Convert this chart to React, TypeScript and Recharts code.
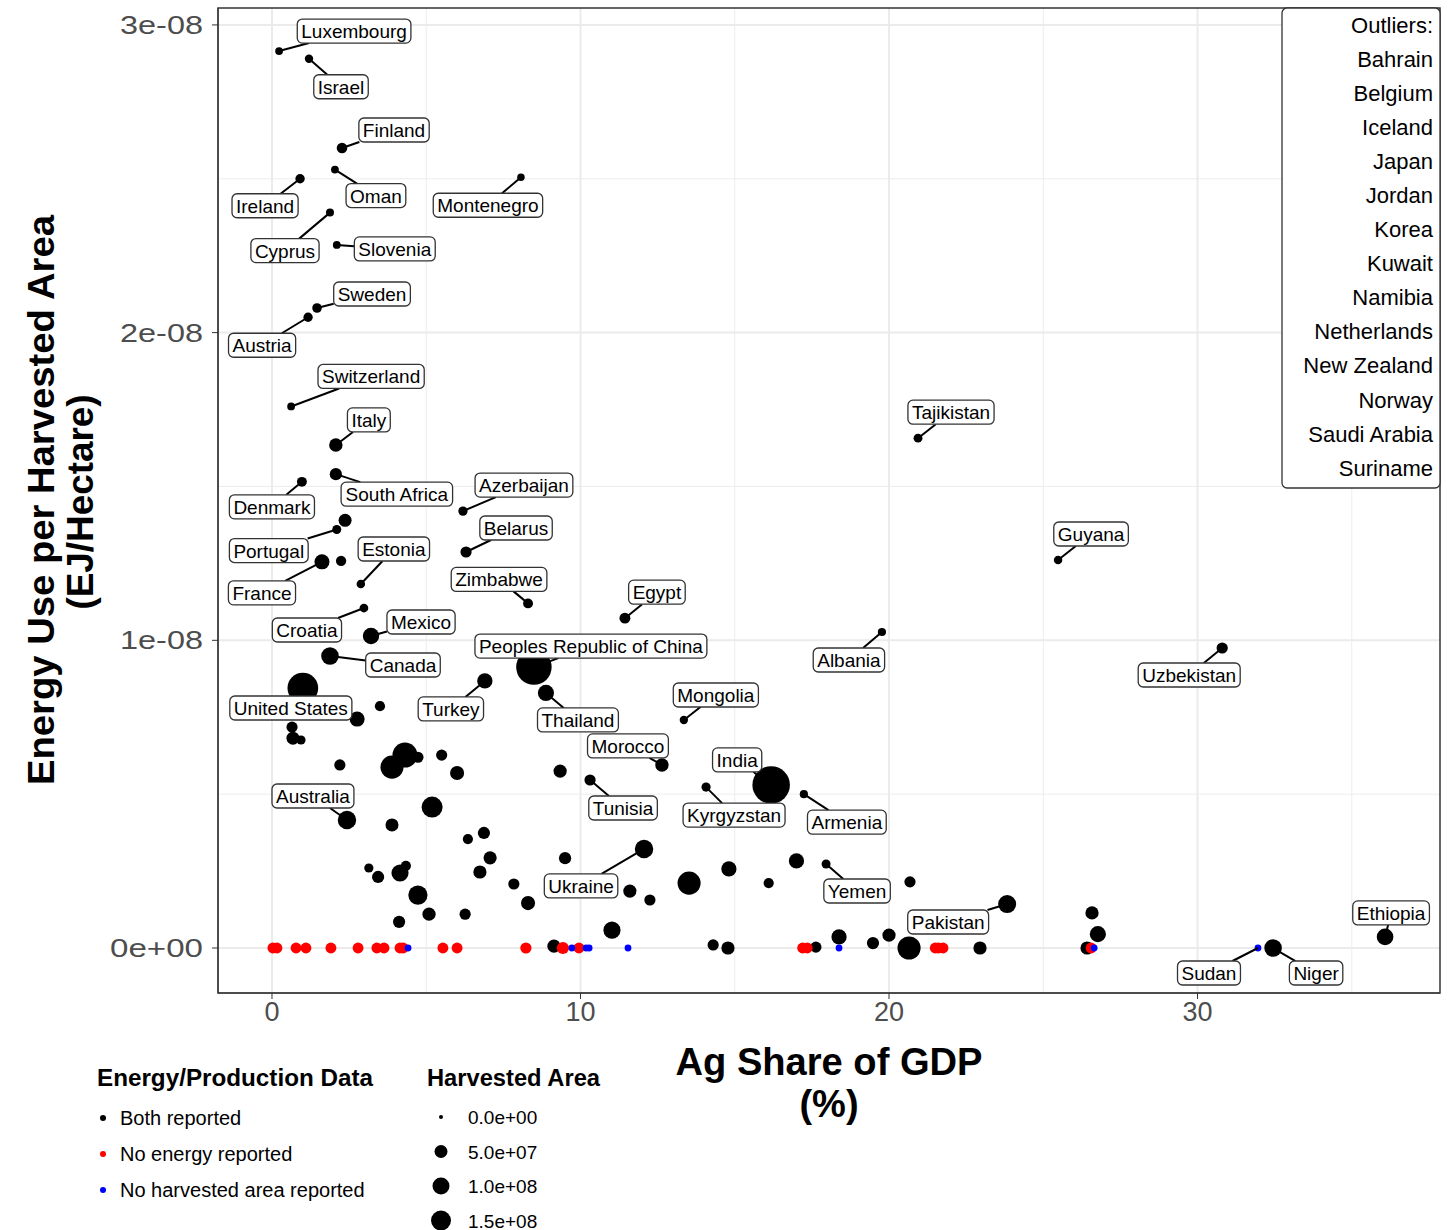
import React from 'react';
import { ScatterChart, Scatter, XAxis, YAxis, CartesianGrid } from 'recharts';

// [country, ag share of GDP (%), energy use per harvested area (EJ/ha), harvested area (Mha)]
type Row = [string, number, number, number];

const BOTH_REPORTED: Row[] = [
  ['Luxembourg', 0.23, 2.915e-8, 0.2],
  ['Israel', 1.2, 2.89e-8, 0.5],
  ['Finland', 2.27, 2.6e-8, 3],
  ['Oman', 2.04, 2.53e-8, 0.2],
  ['Ireland', 0.91, 2.5e-8, 1.4],
  ['Montenegro', 8.07, 2.505e-8, 0.1],
  ['Cyprus', 1.88, 2.39e-8, 0.3],
  ['Slovenia', 2.1, 2.285e-8, 0.2],
  ['Sweden', 1.46, 2.08e-8, 1.6],
  ['Austria', 1.17, 2.05e-8, 1.3],
  ['Switzerland', 0.62, 1.76e-8, 0.2],
  ['Italy', 2.07, 1.635e-8, 9],
  ['South Africa', 2.07, 1.54e-8, 6],
  ['Denmark', 0.97, 1.515e-8, 2],
  ['Azerbaijan', 6.19, 1.42e-8, 1.3],
  ['Portugal', 2.1, 1.36e-8, 1],
  ['', 2.37, 1.39e-8, 8],
  ['Belarus', 6.29, 1.287e-8, 4],
  ['France', 1.62, 1.255e-8, 14],
  ['', 2.24, 1.258e-8, 2.5],
  ['Estonia', 2.88, 1.183e-8, 0.6],
  ['Zimbabwe', 8.3, 1.12e-8, 2],
  ['Egypt', 11.44, 1.072e-8, 3.5],
  ['Croatia', 2.98, 1.105e-8, 0.8],
  ['Mexico', 3.21, 1.014e-8, 19],
  ['Albania', 19.77, 1.027e-8, 0.4],
  ['Canada', 1.88, 0.949e-8, 24],
  ['Peoples Republic of China', 8.49, 0.913e-8, 170],
  ['United States', 1.0, 0.845e-8, 118],
  ['Turkey', 6.9, 0.868e-8, 15],
  ['Thailand', 8.88, 0.829e-8, 18],
  ['Uzbekistan', 30.8, 0.975e-8, 4],
  ['Guyana', 25.48, 1.261e-8, 0.6],
  ['Tajikistan', 20.94, 1.657e-8, 0.9],
  ['Mongolia', 13.35, 0.741e-8, 0.5],
  ['Morocco', 12.64, 0.595e-8, 9],
  ['India', 16.18, 0.53e-8, 195],
  ['Tunisia', 10.31, 0.546e-8, 4],
  ['Kyrgyzstan', 14.07, 0.523e-8, 1.2],
  ['Armenia', 17.24, 0.5e-8, 0.4],
  ['Australia', 2.43, 0.416e-8, 28],
  ['Ukraine', 12.06, 0.322e-8, 28],
  ['Yemen', 17.96, 0.273e-8, 1],
  ['Pakistan', 23.83, 0.143e-8, 26],
  ['Ethiopia', 36.08, 0.036e-8, 20],
  ['Niger', 32.45, 0.0, 24],
  ['', 3.5, 0.786e-8, 2.4],
  ['', 2.76, 0.744e-8, 14],
  ['', 0.65, 0.718e-8, 4],
  ['', 0.68, 0.682e-8, 8],
  ['', 0.94, 0.676e-8, 1.2],
  ['', 2.2, 0.595e-8, 4],
  ['', 3.89, 0.588e-8, 55],
  ['', 4.31, 0.627e-8, 68],
  ['', 4.73, 0.62e-8, 4],
  ['', 5.5, 0.627e-8, 4],
  ['', 6.0, 0.569e-8, 11],
  ['', 5.19, 0.458e-8, 42],
  ['', 3.89, 0.4e-8, 8],
  ['', 6.35, 0.354e-8, 2.4],
  ['', 6.87, 0.374e-8, 6],
  ['', 3.14, 0.26e-8, 1.2],
  ['', 3.44, 0.231e-8, 6],
  ['', 4.15, 0.244e-8, 22],
  ['', 4.34, 0.267e-8, 2.4],
  ['', 4.73, 0.172e-8, 32],
  ['', 4.12, 0.085e-8, 6],
  ['', 5.09, 0.11e-8, 8.5],
  ['', 6.26, 0.11e-8, 4],
  ['', 6.74, 0.247e-8, 8.5],
  ['', 7.07, 0.293e-8, 8.5],
  ['', 9.34, 0.575e-8, 8.5],
  ['', 7.84, 0.208e-8, 4],
  ['', 8.3, 0.146e-8, 11],
  ['', 9.5, 0.292e-8, 6],
  ['', 11.6, 0.185e-8, 8.5],
  ['', 12.25, 0.156e-8, 4],
  ['', 13.52, 0.211e-8, 55],
  ['', 11.02, 0.058e-8, 22],
  ['', 14.3, 0.01e-8, 4],
  ['', 14.78, 0.0, 8.5],
  ['', 14.81, 0.257e-8, 14.6],
  ['', 16.1, 0.211e-8, 2.4],
  ['', 17.0, 0.283e-8, 14.6],
  ['', 20.68, 0.215e-8, 4],
  ['', 17.63, 0.003e-8, 4],
  ['', 18.38, 0.036e-8, 14.6],
  ['', 19.48, 0.016e-8, 6],
  ['', 20.0, 0.042e-8, 8.5],
  ['', 20.65, 0.0, 55],
  ['', 22.95, 0.0, 8.5],
  ['', 26.58, 0.114e-8, 8.5],
  ['', 26.77, 0.045e-8, 18],
  ['', 26.42, 0.0, 8.5],
  ['', 9.14, 0.006e-8, 8.5],
];

// no energy reported -> plotted at 0
const NO_ENERGY: Row[] = [
  ['', 0.03, 0, 3.5], ['', 0.16, 0, 3.5], ['', 0.78, 0, 3.5], ['', 1.1, 0, 3.5],
  ['', 1.91, 0, 3.5], ['', 2.79, 0, 3.5], ['', 3.4, 0, 3.5], ['', 3.63, 0, 3.5],
  ['', 4.15, 0, 3.5], ['', 4.25, 0, 3.5], ['', 5.54, 0, 3.5], ['', 6.0, 0, 3.5],
  ['', 8.23, 0, 4], ['', 9.43, 0, 6], ['', 9.95, 0, 3.5], ['', 17.2, 0, 3.5],
  ['', 17.35, 0, 3.5], ['', 21.5, 0, 3.5], ['', 21.6, 0, 3.5], ['', 21.75, 0, 3.5],
  ['', 26.55, 0, 3.5],
];

// no harvested area reported
const NO_AREA: Row[] = [
  ['', 4.41, 0, 0], ['', 9.72, 0, 0], ['', 10.18, 0, 0], ['', 10.28, 0, 0],
  ['', 11.54, 0, 0], ['', 18.38, 0, 0], ['', 26.65, 0, 0], ['Sudan', 31.96, 0, 0],
];

const X_TICKS = [0, 10, 20, 30];
const X_MINOR = [0, 5, 10, 15, 20, 25, 30, 35];
const Y_TICKS = [0, 1e-8, 2e-8, 3e-8];
const Y_MINOR = [0, 0.5e-8, 1e-8, 1.5e-8, 2e-8, 2.5e-8, 3e-8];
const Y_TICK_LABELS: Record<number, string> = { 0: '0e+00', 1e-8: '1e-08', 2e-8: '2e-08', 3e-8: '3e-08' };

const OUTLIERS = ['Bahrain', 'Belgium', 'Iceland', 'Japan', 'Jordan', 'Korea', 'Kuwait', 'Namibia',
  'Netherlands', 'New Zealand', 'Norway', 'Saudi Arabia', 'Suriname'];
const STATUS_NAMES = ['Both reported', 'No energy reported', 'No harvested area reported'];
const STATUS_COLORS = ['#000000', '#ff0000', '#0000ff'];
const AREA_BREAKS = ['0.0e+00', '5.0e+07', '1.0e+08', '1.5e+08'];
const AREA_KEY_R = [2, 6.5, 8.5, 10];

// label box centre relative to its point (px)
const LABEL_OFFSETS: Record<string, [number, number]> = {
  Luxembourg: [75, -20], Israel: [32, 28], Finland: [52, -18], Oman: [41, 26], Ireland: [-35, 27],
  Montenegro: [-33, 28], Cyprus: [-45, 38], Slovenia: [58, 4], Sweden: [55, -14], Austria: [-46, 28],
  Switzerland: [80, -30], Italy: [33, -25], 'South Africa': [61, 20], Denmark: [-30, 25],
  Azerbaijan: [61, -26], Belarus: [50, -24], Portugal: [-68, 21], Estonia: [33, -35], France: [-60, 31],
  Zimbabwe: [-29, -24], Egypt: [32, -26], Croatia: [-57, 22], Mexico: [50, -14], Canada: [73, 9],
  'Peoples Republic of China': [57, -21], 'United States': [-12, 20], Turkey: [-34, 28],
  Thailand: [32, 27], Albania: [-33, 28], Tajikistan: [33, -26], Guyana: [33, -26],
  Uzbekistan: [-33, 27], Mongolia: [32, -25], Morocco: [-34, -19], India: [-34, -25],
  Tunisia: [33, 28], Kyrgyzstan: [28, 28], Armenia: [43, 28], Australia: [-34, -24],
  Ukraine: [-63, 37], Yemen: [31, 27], Pakistan: [-59, 18], Ethiopia: [6, -24], Sudan: [-49, 25],
  Niger: [43, 25],
};

const FONT = '"Liberation Sans", Arial, sans-serif';
const toPoints = (rows: Row[]) => rows.map(([name, x, y, area]) => ({ name, x, y, area }));
const radius = (area: number) => 3.4 + 1.1 * Math.sqrt(area);

const measureCtx = document.createElement('canvas').getContext('2d')!;
measureCtx.font = `19px ${FONT}`;

const dot = (color: string) => (props: any) => {
  const { cx, cy, payload } = props;
  if (cx == null || cy == null) return <g />;
  return <circle cx={cx} cy={cy} r={radius(payload.area)} fill={color} />;
};

const LabelShape = (props: any) => {
  const { cx, cy, payload } = props;
  const off = LABEL_OFFSETS[payload.name];
  if (!off || cx == null) return <g />;
  const w = measureCtx.measureText(payload.name).width + 8;
  const h = 24;
  const lx = cx + off[0];
  const ly = cy + off[1];
  // segment from point toward label centre, cut at the box edge (like ggrepel)
  const dx = cx - lx;
  const dy = cy - ly;
  const t = Math.min(
    dx === 0 ? Infinity : (w / 2) / Math.abs(dx),
    dy === 0 ? Infinity : (h / 2) / Math.abs(dy),
  );
  const ex = lx + dx * Math.min(t, 1);
  const ey = ly + dy * Math.min(t, 1);
  return (
    <g>
      <line x1={cx} y1={cy} x2={ex} y2={ey} stroke="#000" strokeWidth={2} />
      <rect x={lx - w / 2} y={ly - h / 2} width={w} height={h} rx={5} fill="#fff" stroke="#333" strokeWidth={1.3} />
      <text x={lx} y={ly + 7} textAnchor="middle" fontSize={19} fontFamily={FONT} fill="#000">
        {payload.name}
      </text>
    </g>
  );
};

const YTick = (props: any) => {
  const { x, y, payload } = props;
  const label = Y_TICK_LABELS[payload.value] ?? String(payload.value);
  return (
    <text x={x} y={y + 9} textAnchor="end" fontSize={26} fontFamily={FONT} fill="#4d4d4d"
      textLength={label === '0e+00' ? 93 : 83} lengthAdjust="spacingAndGlyphs">
      {label}
    </text>
  );
};

const XTick = (props: any) => {
  const { x, y, payload } = props;
  return (
    <text x={x} y={y + 20} textAnchor="middle" fontSize={27} fontFamily={FONT} fill="#4d4d4d">
      {payload.value}
    </text>
  );
};

export default function App() {
  const both = toPoints(BOTH_REPORTED);
  const noEnergy = toPoints(NO_ENERGY);
  const noArea = toPoints(NO_AREA);
  const labeled = [...both, ...noArea].filter((p) => p.name !== '');

  return (
    <div style={{ position: 'relative', width: 1448, height: 1230, background: '#fff' }}>
      <style>{'body{margin:0}'}</style>
      <ScatterChart width={1448} height={1230} margin={{ top: 8, right: 8, bottom: 0, left: 0 }}>
        <CartesianGrid stroke="#ededed" strokeWidth={1} verticalValues={X_MINOR} horizontalValues={Y_MINOR} />
        <CartesianGrid stroke="#ebebeb" strokeWidth={2} verticalValues={X_TICKS} horizontalValues={Y_TICKS} />
        <XAxis type="number" dataKey="x" domain={[-1.75, 37.86]} ticks={X_TICKS} allowDataOverflow
          height={237} tick={XTick} tickSize={6} stroke="#333" />
        <YAxis type="number" dataKey="y" domain={[-0.1462e-8, 3.055e-8]} ticks={Y_TICKS} allowDataOverflow
          width={218} tick={YTick} tickSize={6} tickMargin={9} stroke="#333" />
        <Scatter data={both} shape={dot(STATUS_COLORS[0])} isAnimationActive={false} />
        <Scatter data={noEnergy} shape={dot(STATUS_COLORS[1])} isAnimationActive={false} />
        <Scatter data={noArea} shape={dot(STATUS_COLORS[2])} isAnimationActive={false} />
        <Scatter data={labeled} shape={LabelShape} isAnimationActive={false} />
      </ScatterChart>

      <svg width={1448} height={1230} style={{ position: 'absolute', left: 0, top: 0, pointerEvents: 'none' }}
        fontFamily={FONT}>
        <rect x={218} y={8} width={1222} height={985} fill="none" stroke="#333" strokeWidth={1.5} />

        {/* outliers box */}
        <rect x={1282} y={8} width={158} height={480} rx={5} fill="#fff" stroke="#333" strokeWidth={1.3} />
        <text x={1433} y={33} textAnchor="end" fontSize={22} fill="#000">Outliers:</text>
        {OUTLIERS.map((c, i) => (
          <text key={c} x={1433} y={67 + i * 34.05} textAnchor="end" fontSize={22} fill="#000">{c}</text>
        ))}

        {/* axis titles */}
        <text x={829} y={1075} textAnchor="middle" fontSize={38} fontWeight="bold" textLength={307}
          lengthAdjust="spacingAndGlyphs">Ag Share of GDP</text>
        <text x={829} y={1117} textAnchor="middle" fontSize={38} fontWeight="bold">(%)</text>
        <text transform="translate(54,500) rotate(-90)" textAnchor="middle" fontSize={36} fontWeight="bold"
          textLength={570} lengthAdjust="spacingAndGlyphs">Energy Use per Harvested Area</text>
        <text transform="translate(93,502) rotate(-90)" textAnchor="middle" fontSize={36} fontWeight="bold"
          textLength={215} lengthAdjust="spacingAndGlyphs">(EJ/Hectare)</text>

        {/* legends */}
        <text x={97} y={1086} fontSize={23} fontWeight="bold" textLength={276}
          lengthAdjust="spacingAndGlyphs">Energy/Production Data</text>
        {STATUS_NAMES.map((s, i) => (
          <g key={s}>
            <circle cx={103} cy={1118 + i * 36} r={3} fill={STATUS_COLORS[i]} />
            <text x={120} y={1125 + i * 36} fontSize={20} fill="#000">{s}</text>
          </g>
        ))}
        <text x={427} y={1086} fontSize={23} fontWeight="bold" textLength={173}
          lengthAdjust="spacingAndGlyphs">Harvested Area</text>
        {AREA_BREAKS.map((s, i) => (
          <g key={s}>
            <circle cx={441} cy={1117 + i * 34.5} r={AREA_KEY_R[i]} fill="#000" />
            <text x={468} y={1124 + i * 34.5} fontSize={19} fill="#000">{s}</text>
          </g>
        ))}
      </svg>
    </div>
  );
}
